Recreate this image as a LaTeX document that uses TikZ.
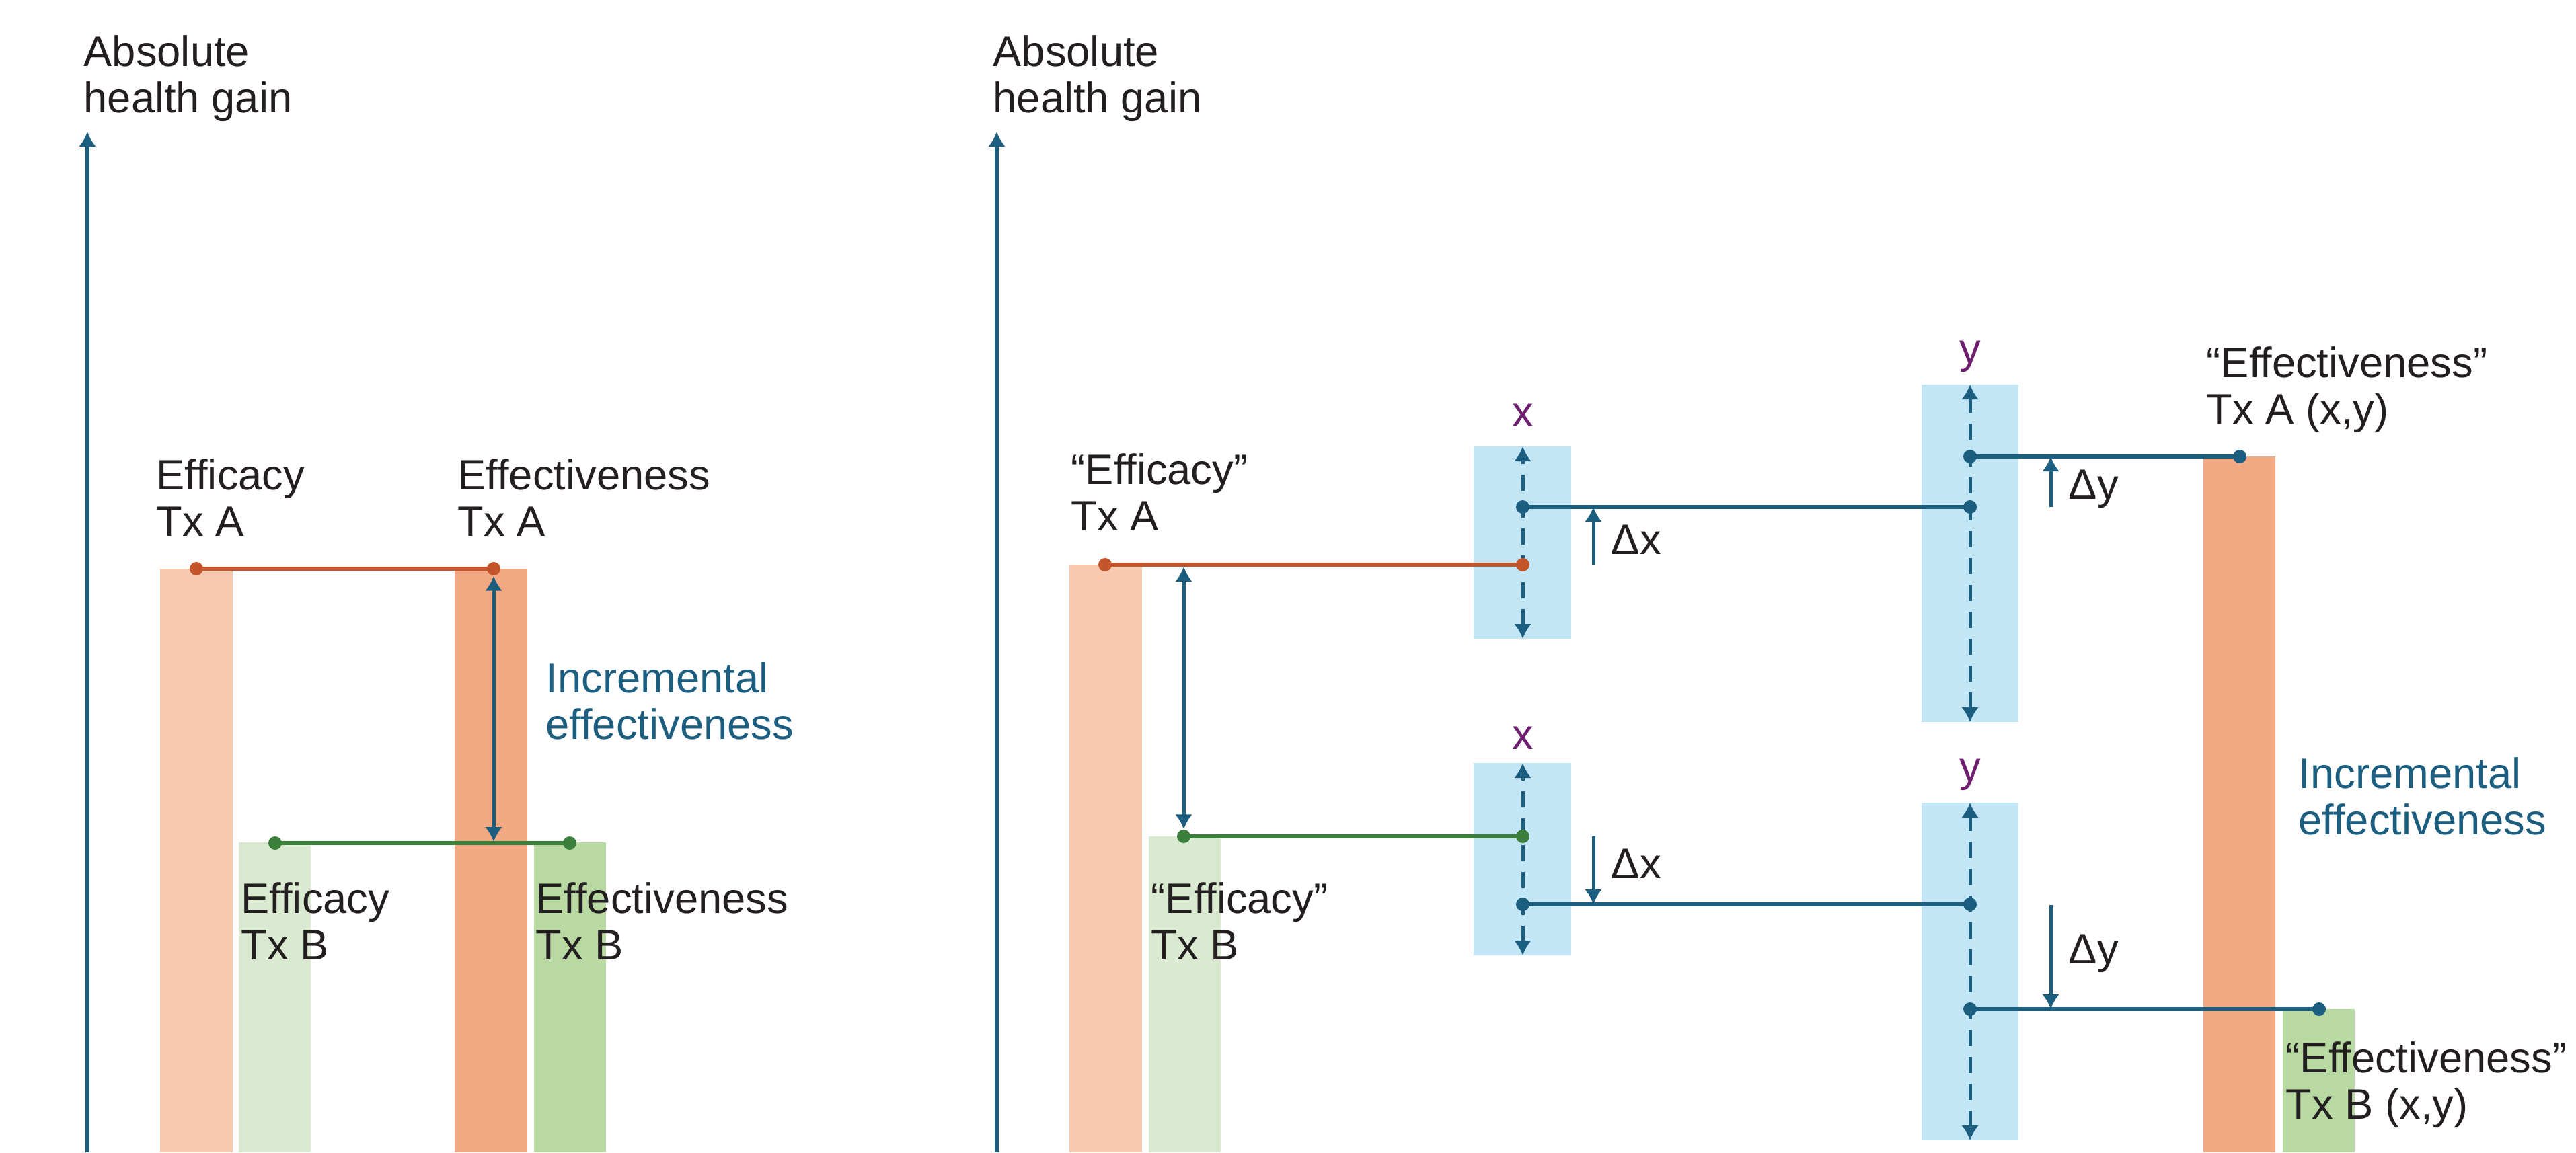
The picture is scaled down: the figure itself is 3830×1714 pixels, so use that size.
\documentclass[tikz,border=0pt]{standalone}
\usepackage{fontspec}
\setmainfont{Liberation Sans}
\usetikzlibrary{arrows.meta}
\definecolor{cblue}{HTML}{1B5E80}
\definecolor{boxblue}{HTML}{C2E6F5}
\definecolor{cpurple}{HTML}{6E1E6E}
\definecolor{corange}{HTML}{C4552B}
\definecolor{lorange}{HTML}{F8C8AF}
\definecolor{dorange}{HTML}{F2A883}
\definecolor{lgreen}{HTML}{D9EAD0}
\definecolor{dgreen}{HTML}{B8DAA2}
\definecolor{cgreen}{HTML}{3A7F3A}
\definecolor{ink}{HTML}{231F20}
\newcommand\twol[2]{\begin{tabular}[t]{@{}l@{}}#1\\#2\end{tabular}}
\begin{document}
\begin{tikzpicture}[x=0.01cm,y=-0.01cm,
  lbl/.style={inner sep=0pt, anchor=base west, font=\fontsize{18}{19.8}\selectfont, text=ink},
  bluelbl/.style={lbl, text=cblue},
  varlbl/.style={inner sep=0pt, anchor=base, font=\fontsize{18}{19.8}\selectfont, text=cpurple},
  axisline/.style={draw=cblue, line width=0.055cm, -{Latex[length=0.22cm,width=0.26cm]}},
  dblarrow/.style={draw=cblue, line width=0.05cm, {Latex[length=0.22cm,width=0.26cm]}-{Latex[length=0.22cm,width=0.26cm]}},
  dasharrow/.style={dblarrow, dash pattern=on 0.24cm off 0.16cm},
  deltaarrow/.style={draw=cblue, line width=0.05cm, -{Latex[length=0.22cm,width=0.26cm]}},
  conn/.style={line width=0.055cm},
  dotstyle/.style={circle, inner sep=0pt, minimum size=0.2cm}]
\useasboundingbox (0,0) rectangle (3830,1714);

% ---------------- left panel ----------------
\fill[lorange] (238,846) rectangle (346,1714);
\fill[lgreen]  (355,1253) rectangle (462,1714);
\fill[dorange] (676,846) rectangle (784,1714);
\fill[dgreen]  (794,1253) rectangle (901,1714);

\coordinate (axLbot) at (130,1714);
\coordinate (axLtop) at (130,196);
\draw[axisline] (axLbot) -- (axLtop);
\node[lbl] (absL) at (124,98) {\twol{Absolute}{health gain}};

\node[dotstyle, fill=corange] (LA1) at (292,846) {};
\node[dotstyle, fill=corange] (LA2) at (734,846) {};
\draw[corange, conn] (LA1.center) -- (LA2.center);
\node[dotstyle, fill=cgreen] (LB1) at (409,1254) {};
\node[dotstyle, fill=cgreen] (LB2) at (847,1254) {};
\draw[cgreen, conn] (LB1.center) -- (LB2.center);
\coordinate (LBmid) at (734,1252);
\draw[dblarrow] (LA2.south) -- (LBmid);

\node[lbl] (effA) at (232,728) {\twol{Efficacy}{Tx A}};
\node[lbl] (efvA) at (680,728) {\twol{Effectiveness}{Tx A}};
\node[lbl] (effB) at (358,1358) {\twol{Efficacy}{Tx B}};
\node[lbl] (efvB) at (796,1358) {\twol{Effectiveness}{Tx B}};
\node[bluelbl] (incL) at (811,1030) {\twol{Incremental}{effectiveness}};

% ---------------- right panel ----------------
\fill[lorange] (1590,840) rectangle (1698,1714);
\fill[lgreen]  (1708,1244) rectangle (1815,1714);
\fill[dorange] (3276,679) rectangle (3383,1714);
\fill[dgreen]  (3394,1501) rectangle (3501,1714);

\fill[boxblue] (2191,664) rectangle (2336,950);
\fill[boxblue] (2191,1135) rectangle (2336,1421);
\fill[boxblue] (2857,572) rectangle (3001,1074);
\fill[boxblue] (2857,1194) rectangle (3001,1696);

\coordinate (axRbot) at (1482,1714);
\coordinate (axRtop) at (1482,196);
\draw[axisline] (axRbot) -- (axRtop);
\node[lbl] (absR) at (1476,98) {\twol{Absolute}{health gain}};

% dashed ranges
\coordinate (xb1t) at (2264,664); \coordinate (xb1b) at (2264,950);
\coordinate (xb2t) at (2264,1135); \coordinate (xb2b) at (2264,1421);
\coordinate (yb1t) at (2929,572); \coordinate (yb1b) at (2929,1074);
\coordinate (yb2t) at (2929,1194); \coordinate (yb2b) at (2929,1696);
\draw[dasharrow] (xb1b) -- (xb1t);
\draw[dasharrow] (xb2b) -- (xb2t);
\draw[dasharrow] (yb1b) -- (yb1t);
\draw[dasharrow] (yb2b) -- (yb2t);

\node[varlbl] (xl1) at (2264,634) {x};
\node[varlbl] (xl2) at (2264,1114) {x};
\node[varlbl] (yl1) at (2929,540) {y};
\node[varlbl] (yl2) at (2929,1162) {y};

% dots
\node[dotstyle, fill=corange] (RA1) at (1643,840) {};
\node[dotstyle, fill=corange] (RA2) at (2264,840) {};
\node[dotstyle, fill=cgreen] (RB1) at (1760,1244) {};
\node[dotstyle, fill=cgreen] (RB2) at (2264,1244) {};
\node[dotstyle, fill=cblue] (X1) at (2264,754) {};
\node[dotstyle, fill=cblue] (Y1a) at (2929,754) {};
\node[dotstyle, fill=cblue] (X2) at (2264,1345) {};
\node[dotstyle, fill=cblue] (Y2a) at (2929,1345) {};
\node[dotstyle, fill=cblue] (Y1b) at (2929,679) {};
\node[dotstyle, fill=cblue] (EA) at (3330,679) {};
\node[dotstyle, fill=cblue] (Y2b) at (2929,1501) {};
\node[dotstyle, fill=cblue] (EB) at (3448,1501) {};

\draw[corange, conn] (RA1.center) -- (RA2.center);
\draw[cgreen, conn] (RB1.center) -- (RB2.center);
\draw[cblue, conn] (X1.center) -- (Y1a.center);
\draw[cblue, conn] (X2.center) -- (Y2a.center);
\draw[cblue, conn] (Y1b.center) -- (EA.center);
\draw[cblue, conn] (Y2b.center) -- (EB.center);

\coordinate (dblt) at (1760,843);
\draw[dblarrow] (dblt) -- (RB1.north);

% delta arrows
\coordinate (dx1s) at (2369,840); \coordinate (dx1e) at (2369,754);
\coordinate (dx2s) at (2369,1244); \coordinate (dx2e) at (2369,1345);
\coordinate (dy1s) at (3049,754); \coordinate (dy1e) at (3049,679);
\coordinate (dy2s) at (3049,1346); \coordinate (dy2e) at (3049,1501);
\draw[deltaarrow] (dx1s) -- (dx1e);
\draw[deltaarrow] (dx2s) -- (dx2e);
\draw[deltaarrow] (dy1s) -- (dy1e);
\draw[deltaarrow] (dy2s) -- (dy2e);
\node[lbl] (dxl1) at (2395,824) {Δx};
\node[lbl] (dxl2) at (2395,1306) {Δx};
\node[lbl] (dyl1) at (3075,742) {Δy};
\node[lbl] (dyl2) at (3075,1433) {Δy};

% labels
\node[lbl] (qeffA) at (1592,720) {\twol{“Efficacy”}{Tx A}};
\node[lbl] (qeffB) at (1711,1358) {\twol{“Efficacy”}{Tx B}};
\node[lbl] (qefvA) at (3280,561) {\twol{“Effectiveness”}{Tx A (x,y)}};
\node[bluelbl] (incR) at (3417,1172) {\twol{Incremental}{effectiveness}};
\node[lbl] (qefvB) at (3398,1595) {\twol{“Effectiveness”}{Tx B (x,y)}};
\end{tikzpicture}
\end{document}
